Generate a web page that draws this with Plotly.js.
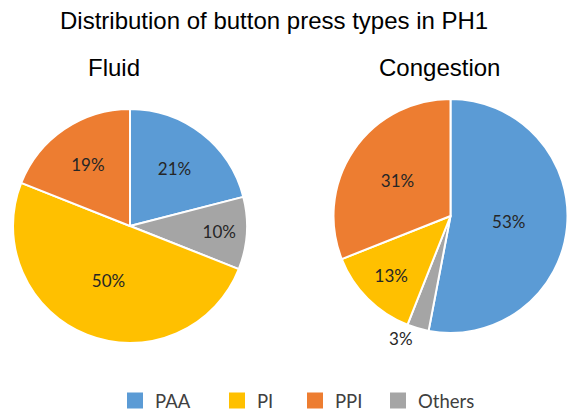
<!DOCTYPE html>
<html>
<head>
<meta charset="utf-8">
<script src="https://cdn.plot.ly/plotly-3.0.1.min.js"></script>
<style>html,body{margin:0;padding:0;background:#fff;}#chart{width:568px;height:411px;}</style>
</head>
<body>
<div id="chart"></div>
<script>
// Slice order (clockwise from 12 o'clock)
const sliceLabels = ['PAA', 'Others', 'PI', 'PPI'];
const fluidValues = [21, 10, 50, 19];
const congestionValues = [53, 3, 13, 31];
// Legend order
const legendLabels = ['PAA', 'PI', 'PPI', 'Others'];
const colorByLabel = {PAA: '#5B9BD5', PI: '#FFC000', PPI: '#ED7D31', Others: '#A5A5A5'};
const chartTitle = 'Distribution of button press types in PH1';
const pieTitles = ['Fluid', 'Congestion'];

const W = 568, H = 411;
const px = v => v / W;
const py = v => 1 - v / H;

const labelFont = {family: 'Lato, "Open Sans", sans-serif', size: 17, color: '#262626'};
const legendEntryWidths = [57, 33, 38, 60];

// Legend-only entries (hidden beneath the Fluid pie), one per label so that
// the legend keeps the reference order and spacing.
const legendTraces = legendLabels.map((lab, i) => ({
  type: 'pie', labels: [lab], values: [1],
  marker: {colors: [colorByLabel[lab]], line: {color: [colorByLabel[lab]], width: 4}},
  domain: {x: [px(88), px(89)], y: [py(291), py(290)]},
  textinfo: 'none', hoverinfo: 'skip', sort: false,
  legendwidth: legendEntryWidths[i]
}));

function pieTrace(values, dom, positions) {
  return {
    type: 'pie', labels: sliceLabels, values: values,
    marker: {colors: sliceLabels.map(l => colorByLabel[l]), line: {color: '#ffffff', width: 2}},
    domain: dom, sort: false, direction: 'clockwise', rotation: 0,
    texttemplate: '%{value}%', textposition: positions,
    insidetextorientation: 'horizontal',
    textfont: labelFont, insidetextfont: labelFont, outsidetextfont: labelFont,
    hoverinfo: 'label+percent'
  };
}

const data = legendTraces.concat([
  pieTrace(fluidValues, {x: [px(12), px(248)], y: [py(343), py(109)]}, ['inside', 'inside', 'inside', 'inside']),
  pieTrace(congestionValues, {x: [px(333), 1], y: [py(333), py(99)]}, ['inside', 'outside', 'inside', 'inside'])
]);

const titleFont = {family: '"Liberation Sans", Arial, sans-serif', size: 24, color: '#000000'};
const layout = {
  width: W, height: H,
  margin: {l: 0, r: 0, t: 0, b: 0, autoexpand: false},
  paper_bgcolor: '#ffffff',
  showlegend: true,
  legend: {orientation: 'h', x: px(115), xanchor: 'left', y: py(401), yanchor: 'middle',
           font: {family: 'Lato, "Open Sans", sans-serif', size: 18.5, color: '#404040'},
           itemclick: false, itemdoubleclick: false},
  annotations: [
    {text: chartTitle, x: px(274), y: py(20), xref: 'paper', yref: 'paper', xanchor: 'center', yanchor: 'middle', showarrow: false, font: titleFont},
    {text: pieTitles[0], x: px(114), y: py(67), xref: 'paper', yref: 'paper', xanchor: 'center', yanchor: 'middle', showarrow: false, font: titleFont},
    {text: pieTitles[1], x: px(439), y: py(67), xref: 'paper', yref: 'paper', xanchor: 'center', yanchor: 'middle', showarrow: false, font: titleFont}
  ]
};

Plotly.newPlot('chart', data, layout, {displayModeBar: false, staticPlot: true});
</script>
</body>
</html>
